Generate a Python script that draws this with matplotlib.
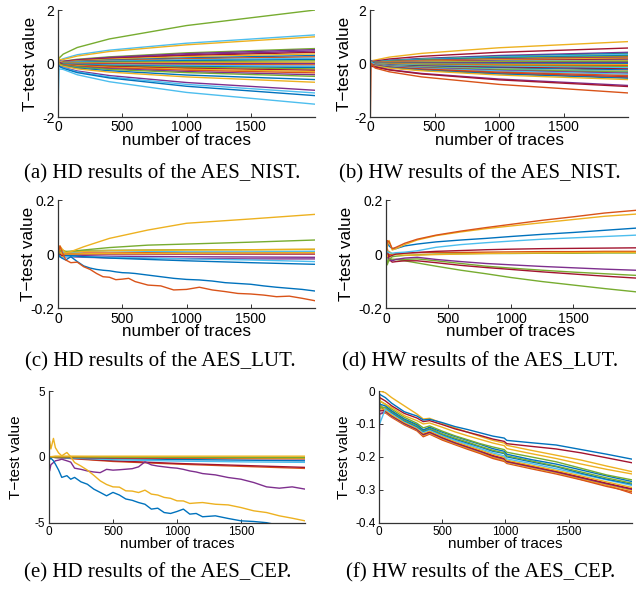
import matplotlib

matplotlib.use('Agg')
import matplotlib.pyplot as plt

# MATLAB default colour order (blue, red, yellow, purple, green, cyan, maroon)
PALETA = ['#0072BD', '#D95319', '#EDB120', '#7E2F8E', '#77AC30', '#4DBEEE', '#A2142F']

# ---------------- (a) HD results of the AES_NIST ----------------
x_a = [1, 8, 40, 150, 400, 1000, 2000]
lineas_a = [
    [0.10, 0.20, 0.35, 0.60, 0.92, 1.42, 2.00],
    [0.00, 0.10, 0.18, 0.33, 0.50, 0.76, 1.07],
    [0.35, 0.15, 0.15, 0.28, 0.45, 0.70, 1.00],
    [0.00, 0.05, 0.09, 0.16, 0.25, 0.40, 0.56],
    [0.10, 0.10, 0.08, 0.14, 0.23, 0.37, 0.52],
    [-0.10, 0.05, 0.07, 0.13, 0.21, 0.33, 0.47],
    [0.05, 0.02, 0.06, 0.12, 0.19, 0.30, 0.42],
    [0.20, 0.08, 0.05, 0.10, 0.16, 0.26, 0.36],
    [0.00, -0.05, 0.04, 0.08, 0.13, 0.21, 0.30],
    [0.10, 0.00, 0.04, 0.07, 0.11, 0.18, 0.25],
    [-0.05, 0.05, 0.03, 0.06, 0.09, 0.14, 0.20],
    [0.05, 0.03, 0.02, 0.04, 0.07, 0.11, 0.15],
    [-0.10, 0.00, 0.01, 0.03, 0.05, 0.07, 0.10],
    [0.15, 0.05, 0.01, 0.01, 0.02, 0.04, 0.05],
    [0.00, 0.05, 0.00, 0.00, 0.00, 0.00, 0.00],
    [0.05, 0.00, -0.01, -0.02, -0.02, -0.04, -0.05],
    [0.00, -0.05, -0.02, -0.03, -0.05, -0.07, -0.10],
    [-0.05, 0.00, -0.02, -0.04, -0.07, -0.11, -0.15],
    [0.05, -0.05, -0.03, -0.06, -0.09, -0.14, -0.20],
    [0.00, 0.02, -0.04, -0.07, -0.11, -0.18, -0.25],
    [0.20, -0.05, -0.05, -0.08, -0.14, -0.21, -0.30],
    [0.00, -0.05, -0.05, -0.10, -0.16, -0.25, -0.35],
    [-0.05, -0.05, -0.06, -0.12, -0.19, -0.30, -0.42],
    [0.05, 0.00, -0.07, -0.13, -0.22, -0.34, -0.48],
    [0.00, -0.10, -0.09, -0.17, -0.27, -0.43, -0.60],
    [0.10, -0.05, -0.10, -0.20, -0.32, -0.50, -0.70],
    [0.00, -0.10, -0.15, -0.28, -0.45, -0.71, -1.00],
    [-0.20, -0.10, -0.16, -0.31, -0.50, -0.78, -1.10],
    [0.00, -0.10, -0.18, -0.34, -0.54, -0.85, -1.20],
    [-1.50, -0.20, -0.22, -0.42, -0.68, -1.08, -1.52],
]
colores_a = [4, 5, 2, 4, 3, 3, 6, 2, 0, 1, 5, 0, 4, 2, 3, 1, 5, 0, 4, 6,
             2, 1, 3, 4, 0, 2, 3, 5, 0, 5]

# ---------------- (b) HW results of the AES_NIST ----------------
x_b = [1, 8, 40, 150, 400, 1000, 2000]
lineas_b = [
    [0.10, 0.10, 0.13, 0.24, 0.38, 0.59, 0.82],
    [0.05, 0.05, 0.09, 0.17, 0.27, 0.42, 0.58],
    [0.00, 0.08, 0.07, 0.12, 0.19, 0.30, 0.42],
    [0.10, 0.05, 0.06, 0.11, 0.17, 0.27, 0.38],
    [0.15, 0.05, 0.06, 0.10, 0.16, 0.25, 0.35],
    [0.05, 0.10, 0.05, 0.10, 0.15, 0.24, 0.34],
    [0.00, 0.05, 0.05, 0.09, 0.14, 0.22, 0.30],
    [0.15, 0.05, 0.04, 0.08, 0.12, 0.19, 0.27],
    [0.05, 0.00, 0.04, 0.07, 0.11, 0.17, 0.24],
    [0.05, 0.10, 0.03, 0.06, 0.10, 0.16, 0.22],
    [0.10, 0.05, 0.03, 0.06, 0.09, 0.14, 0.20],
    [0.00, 0.05, 0.02, 0.04, 0.07, 0.11, 0.16],
    [0.05, 0.00, 0.02, 0.03, 0.05, 0.09, 0.12],
    [0.00, 0.05, 0.02, 0.03, 0.05, 0.07, 0.10],
    [0.10, 0.05, 0.01, 0.02, 0.04, 0.06, 0.08],
    [0.00, 0.00, 0.01, 0.01, 0.02, 0.03, 0.04],
    [0.05, 0.05, 0.00, 0.00, 0.00, 0.00, 0.00],
    [0.10, 0.00, -0.01, -0.01, -0.02, -0.03, -0.04],
    [0.00, -0.05, -0.01, -0.02, -0.04, -0.06, -0.08],
    [0.05, 0.00, -0.02, -0.03, -0.05, -0.09, -0.12],
    [0.00, -0.05, -0.02, -0.04, -0.07, -0.11, -0.16],
    [0.05, 0.00, -0.03, -0.06, -0.09, -0.14, -0.20],
    [0.00, -0.05, -0.04, -0.07, -0.11, -0.17, -0.24],
    [0.10, 0.00, -0.04, -0.08, -0.13, -0.20, -0.28],
    [0.00, 0.05, -0.05, -0.08, -0.14, -0.21, -0.30],
    [0.05, -0.05, -0.05, -0.09, -0.14, -0.23, -0.32],
    [0.00, -0.05, -0.05, -0.10, -0.16, -0.26, -0.36],
    [-0.05, -0.10, -0.06, -0.11, -0.18, -0.28, -0.40],
    [0.00, -0.05, -0.07, -0.13, -0.20, -0.32, -0.45],
    [0.00, -0.05, -0.08, -0.14, -0.23, -0.36, -0.50],
    [0.05, 0.00, -0.08, -0.15, -0.24, -0.37, -0.52],
    [0.05, -0.05, -0.08, -0.15, -0.25, -0.39, -0.55],
    [0.00, -0.10, -0.09, -0.17, -0.27, -0.43, -0.60],
    [0.00, -0.05, -0.12, -0.23, -0.37, -0.58, -0.82],
    [0.00, -0.10, -0.13, -0.24, -0.39, -0.61, -0.86],
    [-2.50, 0.00, -0.17, -0.31, -0.50, -0.78, -1.10],
]
colores_b = [2, 6, 3, 0, 4, 5, 0, 4, 1, 3, 2, 6, 5, 2, 4, 3, 0, 2, 1, 4,
             5, 6, 0, 2, 5, 4, 3, 5, 1, 6, 1, 0, 2, 3, 6, 1]

# ---------------- (c) HD results of the AES_LUT ----------------
x_c_fino = [1, 15, 30, 60, 100, 150, 200, 250, 300, 350, 400, 450, 500, 550, 600,
            700, 800, 900, 1000, 1100, 1200, 1300, 1400, 1500, 1600, 1700, 1800,
            1900, 2000]
roja_c = [0.00, 0.03, 0.01, -0.022, -0.032, -0.030, -0.047, -0.057, -0.072, -0.084,
          -0.086, -0.095, -0.093, -0.090, -0.102, -0.115, -0.118, -0.133, -0.131,
          -0.123, -0.133, -0.139, -0.146, -0.148, -0.152, -0.158, -0.156, -0.164,
          -0.173]
azul_c = [0.00, -0.01, -0.015, -0.022, -0.010, -0.028, -0.044, -0.052, -0.057, -0.060,
          -0.062, -0.066, -0.069, -0.070, -0.072, -0.078, -0.084, -0.090, -0.094,
          -0.096, -0.100, -0.106, -0.109, -0.112, -0.118, -0.123, -0.127, -0.131,
          -0.137]
x_c = [1, 15, 30, 60, 100, 200, 400, 700, 1000, 1500, 2000]
lineas_c = [
    [0.0, 0.010, 0.005, 0.008, 0.010, 0.012, 0.014, 0.015, 0.016, 0.016, 0.017],
    [0.0, 0.005, 0.000, 0.002, 0.003, 0.004, 0.004, 0.005, 0.006, 0.006, 0.007],
    [0.0, -0.010, -0.010, -0.005, -0.004, -0.006, -0.008, -0.009, -0.010, -0.011, -0.012],
    [0.0, 0.005, -0.010, -0.010, -0.010, -0.012, -0.014, -0.016, -0.017, -0.018, -0.018],
    [0.0, -0.005, -0.010, -0.010, -0.008, -0.010, -0.012, -0.015, -0.018, -0.022, -0.028],
    [0.0, 0.000, -0.008, -0.004, -0.006, -0.010, -0.015, -0.020, -0.025, -0.032, -0.038],
    [0.0, -0.010, 0.010, 0.000, 0.005, 0.010, 0.012, 0.010, 0.008, 0.008, 0.010],
    [0.0, 0.020, -0.010, 0.005, 0.008, 0.010, 0.012, 0.014, 0.015, 0.016, 0.018],
    [0.0, 0.000, -0.005, 0.000, 0.000, 0.000, 0.000, 0.000, 0.000, 0.000, 0.000],
    [0.0, 0.010, 0.000, 0.000, 0.000, 0.001, 0.002, 0.002, 0.003, 0.004, 0.005],
    [0.0, 0.010, 0.015, 0.010, 0.010, 0.015, 0.024, 0.033, 0.037, 0.044, 0.052],
    [0.0, 0.030, 0.020, 0.005, 0.009, 0.027, 0.058, 0.089, 0.114, 0.130, 0.147],
]
colores_c = [4, 1, 3, 3, 5, 0, 5, 2, 6, 2, 4, 2]

# ---------------- (d) HW results of the AES_LUT ----------------
x_d = [1, 10, 25, 50, 80, 150, 250, 400, 600, 800, 1000, 1250, 1500, 1750, 2000]
lineas_d = [
    [0.0, -0.030, -0.025, -0.020, -0.020, -0.025, -0.033, -0.045, -0.060, -0.073, -0.087, -0.102, -0.115, -0.128, -0.140],
    [0.0, -0.010, -0.015, -0.020, -0.020, -0.020, -0.018, -0.025, -0.035, -0.045, -0.052, -0.060, -0.067, -0.073, -0.079],
    [0.0, 0.000, -0.020, -0.030, -0.028, -0.025, -0.025, -0.032, -0.042, -0.050, -0.057, -0.066, -0.074, -0.082, -0.089],
    [0.0, -0.010, -0.020, -0.025, -0.020, -0.015, -0.012, -0.020, -0.028, -0.035, -0.040, -0.046, -0.051, -0.056, -0.060],
    [0.0, -0.040, -0.020, -0.010, -0.008, -0.005, -0.003, 0.000, 0.001, 0.002, 0.002, 0.003, 0.003, 0.004, 0.004],
    [0.0, 0.020, -0.005, 0.000, 0.002, 0.004, 0.005, 0.006, 0.006, 0.007, 0.008, 0.009, 0.009, 0.010, 0.010],
    [0.0, -0.010, 0.010, 0.000, -0.002, -0.004, -0.004, -0.002, 0.000, 0.002, 0.003, 0.004, 0.005, 0.006, 0.006],
    [0.0, 0.010, -0.010, -0.005, 0.000, 0.003, 0.006, 0.010, 0.013, 0.016, 0.018, 0.020, 0.021, 0.022, 0.023],
    [0.0, 0.010, 0.005, 0.003, 0.005, 0.007, 0.012, 0.025, 0.035, 0.042, 0.048, 0.055, 0.060, 0.065, 0.070],
    [0.0, 0.045, 0.030, 0.020, 0.020, 0.030, 0.037, 0.045, 0.052, 0.058, 0.065, 0.073, 0.080, 0.088, 0.096],
    [0.0, 0.030, 0.050, 0.015, 0.020, 0.035, 0.052, 0.068, 0.082, 0.094, 0.104, 0.116, 0.128, 0.140, 0.148],
    [0.0, 0.050, 0.045, 0.020, 0.025, 0.040, 0.055, 0.070, 0.085, 0.098, 0.110, 0.125, 0.138, 0.152, 0.162],
]
colores_d = [4, 4, 6, 3, 4, 1, 2, 6, 5, 0, 2, 1]

# ---------------- (e) HD results of the AES_CEP ----------------
x_e_fino = [1, 5, 15, 35, 50, 75, 100, 140, 170, 200, 250, 300, 350, 400, 450, 500,
            550, 600, 650, 700, 750, 800, 850, 900, 950, 1000, 1050, 1100, 1150,
            1200, 1300, 1400, 1500, 1600, 1700, 1800, 1900, 2000]
azul_e = [0.0, -0.2, -0.1, -0.3, -0.55, -1.0, -1.56, -1.43, -1.7, -1.56, -1.9, -2.08,
          -2.45, -2.7, -2.96, -2.7, -2.9, -3.2, -3.3, -3.47, -3.6, -3.97, -3.9, -4.23,
          -4.3, -4.15, -3.97, -4.35, -4.3, -4.55, -4.48, -4.68, -4.86, -4.91, -5.0,
          -5.2, -5.3, -5.4]
naranja_e = [1.1, 1.2, 0.6, 1.4, 0.7, 0.3, 0.08, 0.33, 0.0, -0.43, -0.7, -1.01, -1.4,
             -1.82, -2.1, -2.28, -2.3, -2.58, -2.6, -2.71, -2.53, -2.83, -2.9, -3.08,
             -3.15, -3.34, -3.35, -3.54, -3.5, -3.47, -3.6, -3.65, -3.85, -4.1, -4.23,
             -4.48, -4.66, -4.86]
morada_e = [0.0, -1.07, -0.6, -0.43, -0.3, -0.25, -0.18, -0.3, -0.4, -0.86, -0.95,
            -1.07, -1.15, -1.2, -0.95, -1.01, -0.98, -0.94, -0.9, -0.76, -0.38, -0.61,
            -0.7, -0.76, -0.82, -0.86, -0.95, -1.07, -1.15, -1.27, -1.37, -1.57, -1.7,
            -1.95, -2.28, -2.38, -2.28, -2.45]
x_e = [1, 50, 200, 500, 1000, 1500, 2000]
lineas_e = [
    [0.0, -0.05, -0.15, -0.35, -0.55, -0.72, -0.88],
    [0.0, -0.05, -0.12, -0.30, -0.50, -0.65, -0.80],
    [0.0, -0.05, -0.10, -0.22, -0.32, -0.38, -0.42],
    [0.0, -0.02, -0.06, -0.12, -0.20, -0.25, -0.30],
    [0.0, 0.00, -0.03, -0.06, -0.10, -0.13, -0.15],
    [0.0, -0.02, -0.05, -0.08, -0.10, -0.12, -0.14],
    [0.0, -0.01, -0.03, -0.05, -0.07, -0.08, -0.09],
    [0.0, 0.02, 0.02, -0.02, -0.05, -0.08, -0.10],
    [0.0, 0.00, 0.00, -0.02, -0.03, -0.04, -0.05],
    [0.0, 0.05, 0.05, 0.05, 0.05, 0.05, 0.05],
]
colores_e = [1, 6, 5, 0, 3, 1, 6, 2, 4, 2]

# ---------------- (f) HW results of the AES_CEP ----------------
x_f = [1, 5, 50, 100, 200, 300, 350, 400, 500, 600, 700, 800, 900, 990, 1010,
       1200, 1400, 1600, 1800, 2000]
lineas_f = [
    [0, -0.040, -0.065, -0.078, -0.096, -0.119, -0.137, -0.129, -0.147, -0.161, -0.174, -0.188, -0.202, -0.211, -0.215, -0.232, -0.248, -0.269, -0.286, -0.311],
    [0, -0.070, -0.066, -0.080, -0.103, -0.121, -0.139, -0.131, -0.149, -0.163, -0.177, -0.190, -0.205, -0.214, -0.220, -0.236, -0.252, -0.270, -0.290, -0.306],
    [0, -0.050, -0.064, -0.077, -0.100, -0.118, -0.135, -0.128, -0.145, -0.160, -0.173, -0.186, -0.200, -0.210, -0.217, -0.232, -0.248, -0.266, -0.285, -0.302],
    [-0.20, -0.070, -0.062, -0.076, -0.099, -0.117, -0.133, -0.126, -0.143, -0.158, -0.171, -0.184, -0.198, -0.207, -0.215, -0.230, -0.246, -0.264, -0.282, -0.299],
    [0, -0.060, -0.060, -0.074, -0.097, -0.115, -0.131, -0.124, -0.141, -0.156, -0.169, -0.182, -0.196, -0.205, -0.213, -0.228, -0.244, -0.262, -0.280, -0.297],
    [0, -0.040, -0.058, -0.072, -0.095, -0.113, -0.128, -0.121, -0.138, -0.153, -0.166, -0.179, -0.192, -0.201, -0.210, -0.225, -0.241, -0.258, -0.276, -0.293],
    [0, -0.100, -0.055, -0.068, -0.092, -0.110, -0.125, -0.118, -0.135, -0.150, -0.162, -0.175, -0.188, -0.197, -0.206, -0.220, -0.236, -0.253, -0.270, -0.287],
    [0, -0.050, -0.050, -0.065, -0.090, -0.108, -0.122, -0.115, -0.132, -0.146, -0.158, -0.170, -0.183, -0.190, -0.200, -0.215, -0.230, -0.250, -0.268, -0.283],
    [0, -0.050, -0.050, -0.062, -0.088, -0.105, -0.120, -0.113, -0.130, -0.143, -0.155, -0.168, -0.180, -0.188, -0.197, -0.212, -0.228, -0.246, -0.264, -0.280],
    [0, -0.040, -0.045, -0.060, -0.085, -0.102, -0.118, -0.110, -0.125, -0.138, -0.150, -0.162, -0.175, -0.183, -0.192, -0.208, -0.222, -0.240, -0.258, -0.275],
    [0, -0.030, -0.040, -0.055, -0.080, -0.098, -0.112, -0.106, -0.122, -0.136, -0.148, -0.160, -0.170, -0.178, -0.186, -0.200, -0.215, -0.235, -0.255, -0.270],
    [0, -0.030, -0.040, -0.050, -0.075, -0.090, -0.100, -0.097, -0.110, -0.124, -0.136, -0.147, -0.158, -0.166, -0.175, -0.190, -0.205, -0.222, -0.238, -0.252],
    [0, 0.000, -0.005, -0.020, -0.045, -0.070, -0.085, -0.083, -0.098, -0.112, -0.125, -0.138, -0.150, -0.158, -0.165, -0.180, -0.195, -0.210, -0.228, -0.245],
    [0, -0.020, -0.030, -0.045, -0.068, -0.082, -0.093, -0.090, -0.102, -0.115, -0.125, -0.135, -0.146, -0.153, -0.160, -0.168, -0.176, -0.188, -0.203, -0.218],
    [0, -0.010, -0.020, -0.037, -0.063, -0.076, -0.088, -0.086, -0.096, -0.108, -0.117, -0.127, -0.137, -0.143, -0.150, -0.157, -0.164, -0.178, -0.192, -0.207],
]
colores_f = [1, 1, 2, 3, 6, 2, 5, 0, 4, 0, 4, 2, 2, 6, 0]

ticks_x = [0, 500, 1000, 1500]
titulos = ['(a) HD results of the AES_NIST.', '(b) HW results of the AES_NIST.',
           '(c) HD results of the AES_LUT.', '(d) HW results of the AES_LUT.',
           '(e) HD results of the AES_CEP.', '(f) HW results of the AES_CEP.']

SANS = 'Liberation Sans'
SERIF = 'Liberation Serif'
GRIS = '#333333'


def preparar_ejes(ax, yticks, ylabels, ylim, pos_ylabel, grande=True):
    """Common MATLAB-like look for each panel."""
    t_ticks = 10 if grande else 8.5
    t_label = 12.3 if grande else 11
    ax.set_xlim(0, 2000)
    ax.set_ylim(*ylim)
    ax.set_xticks(ticks_x)
    ax.set_xticklabels([str(t) for t in ticks_x], family=SANS, fontsize=t_ticks)
    ax.set_yticks(yticks)
    ax.set_yticklabels(ylabels, family=SANS, fontsize=t_ticks)
    for lado in ['top', 'right']:
        ax.spines[lado].set_visible(False)
    for lado in ['left', 'bottom']:
        ax.spines[lado].set_color(GRIS)
        ax.spines[lado].set_linewidth(0.9)
    ax.tick_params(direction='in', length=3, width=0.7, color=GRIS, pad=2.5)
    ax.set_xlabel('number of traces', family=SANS, fontsize=t_label, labelpad=-1)
    ax.set_ylabel('T\u2212test value', family=SANS, fontsize=t_label)
    ax.yaxis.set_label_coords(pos_ylabel, 0.5)


def dibujar(ax, x, lineas, colores):
    for serie, c in zip(lineas, colores):
        ax.plot(x, serie, color=PALETA[c], lw=1.0)


fig = plt.figure(figsize=(6.36, 5.91), dpi=100)

ax_a = fig.add_axes([0.0912, 0.8020, 0.4041, 0.1810])
dibujar(ax_a, x_a, lineas_a, colores_a)
preparar_ejes(ax_a, [-2, 0, 2], ['-2', '0', '2'], (-2, 2), -0.078)

ax_b = fig.add_axes([0.5818, 0.8020, 0.4057, 0.1810])
dibujar(ax_b, x_b, lineas_b, colores_b)
preparar_ejes(ax_b, [-2, 0, 2], ['-2', '0', '2'], (-2, 2), -0.070)

ax_c = fig.add_axes([0.0912, 0.4788, 0.4041, 0.1827])
dibujar(ax_c, x_c, lineas_c, colores_c)
ax_c.plot(x_c_fino, azul_c, color=PALETA[0], lw=1.0)
ax_c.plot(x_c_fino, roja_c, color=PALETA[1], lw=1.0)
preparar_ejes(ax_c, [-0.2, 0, 0.2], ['-0.2', '0', '0.2'], (-0.2, 0.2), -0.086)

ax_d = fig.add_axes([0.6069, 0.4788, 0.3931, 0.1827])
dibujar(ax_d, x_d, lineas_d, colores_d)
preparar_ejes(ax_d, [-0.2, 0, 0.2], ['-0.2', '0', '0.2'], (-0.2, 0.2), -0.127)

ax_e = fig.add_axes([0.0770, 0.1156, 0.4025, 0.2228])
dibujar(ax_e, x_e, lineas_e, colores_e)
ax_e.plot(x_e_fino, morada_e, color=PALETA[3], lw=1.0)
ax_e.plot(x_e_fino, naranja_e, color=PALETA[2], lw=1.0)
ax_e.plot(x_e_fino, azul_e, color=PALETA[0], lw=1.0)
preparar_ejes(ax_e, [-5, 0, 5], ['-5', '0', '5'], (-5, 5), -0.102, grande=False)

ax_f = fig.add_axes([0.5959, 0.1156, 0.3978, 0.2228])
dibujar(ax_f, x_f, lineas_f, colores_f)
preparar_ejes(ax_f, [-0.4, -0.3, -0.2, -0.1, 0],
              ['-0.4', '-0.3', '-0.2', '-0.1', '0'],
              (-0.4, 0), -0.111, grande=False)

# captions under each panel
pos_titulos = [(162, 174), (480, 174), (160, 362), (480, 362), (158, 573), (481, 573)]
for texto, (px, py) in zip(titulos, pos_titulos):
    fig.text(px / 636, 1 - py / 591, texto, family=SERIF, fontsize=15,
             ha='center', va='center')

fig.savefig('out.png', dpi=100)
plt.close(fig)
